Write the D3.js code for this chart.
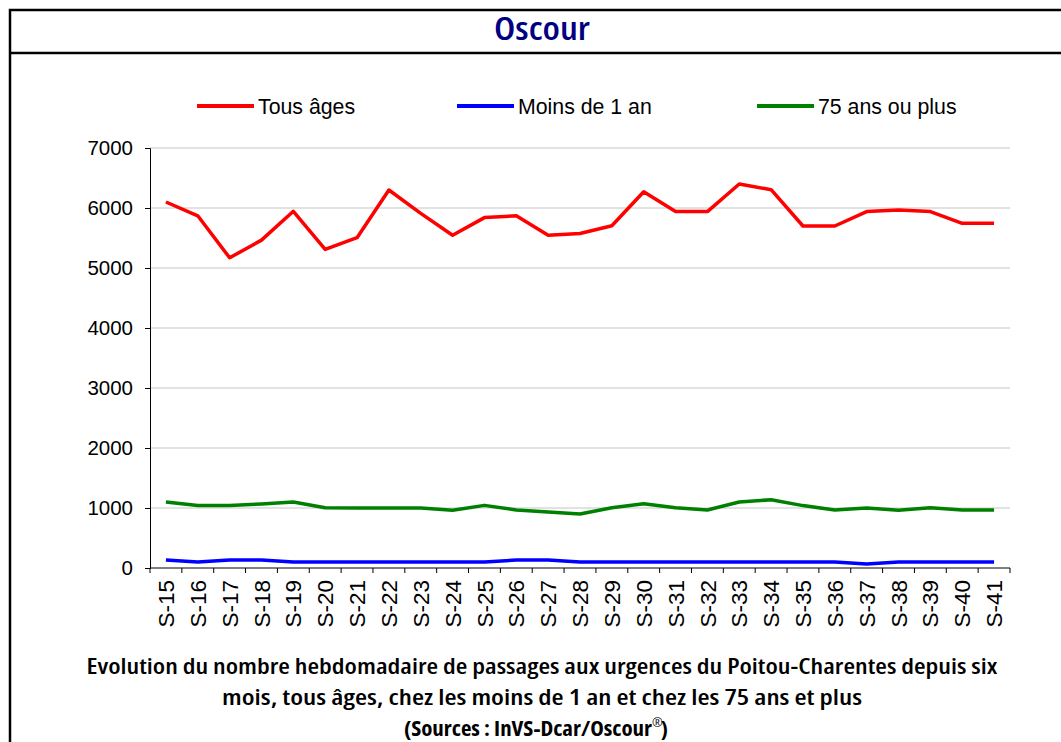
<!DOCTYPE html>
<html>
<head>
<meta charset="utf-8">
<script src="https://d3js.org/d3.v7.min.js"></script>
<style>
body { margin: 0; background: #fff; }
svg { display: block; }
.narrow { font-family: "Open Sans", "DejaVu Sans Condensed", "Liberation Sans", sans-serif; font-stretch: 75%; }
.lab { font-family: "Liberation Sans", Arial, sans-serif; fill: #000; }
</style>
</head>
<body>
<svg id="chart"></svg>
<script>
// weeks S-15 .. S-41
var weeks = ["S-15","S-16","S-17","S-18","S-19","S-20","S-21","S-22","S-23","S-24",
             "S-25","S-26","S-27","S-28","S-29","S-30","S-31","S-32","S-33","S-34",
             "S-35","S-36","S-37","S-38","S-39","S-40","S-41"];

var tousAges = [6100, 5870, 5170, 5465, 5945, 5310, 5505, 6300, 5910, 5545,
                5840, 5870, 5545, 5575, 5705, 6270, 5940, 5940, 6400, 6305,
                5700, 5700, 5940, 5965, 5940, 5745, 5745];

var moins1an = [133, 100, 133, 133, 100, 100, 100, 100, 100, 100,
                100, 133, 133, 100, 100, 100, 100, 100, 100, 100,
                100, 100, 67, 100, 100, 100, 100];

var plus75 = [1100, 1040, 1040, 1067, 1100, 1003, 1000, 1000, 1000, 963,
              1044, 967, 933, 900, 1005, 1072, 1005, 967, 1100, 1138,
              1040, 967, 1000, 963, 1005, 967, 967];

var seriesNames = ["Tous âges", "Moins de 1 an", "75 ans ou plus"];
var seriesColors = ["#ff0000", "#0000ff", "#008000"];
var yTicks = [0, 1000, 2000, 3000, 4000, 5000, 6000, 7000];

var width = 1061, height = 742;
var svg = d3.select("#chart").attr("width", width).attr("height", height);

// frame
svg.append("rect")
   .attr("x", 10).attr("y", 10)
   .attr("width", 1100).attr("height", 800)
   .attr("fill", "none").attr("stroke", "#000").attr("stroke-width", 2.5);
svg.append("line")
   .attr("x1", 10).attr("x2", 1061).attr("y1", 53).attr("y2", 53)
   .attr("stroke", "#000").attr("stroke-width", 2.5);

// title
svg.append("text")
   .attr("class", "narrow")
   .attr("x", 542).attr("y", 40)
   .attr("text-anchor", "middle")
   .attr("textLength", 96).attr("lengthAdjust", "spacingAndGlyphs")
   .style("font-size", "32px").style("font-weight", "600")
   .style("fill", "#000080")
   .text("Oscour");

var x = d3.scaleBand().domain(weeks).range([150, 1010]);
var y = d3.scaleLinear().domain([0, 7000]).range([568, 148]);

// gridlines
svg.append("g").selectAll("line")
   .data(yTicks.filter(function(d) { return d > 0; }))
   .enter().append("line")
   .attr("x1", 150).attr("x2", 1010)
   .attr("y1", function(d) { return y(d); })
   .attr("y2", function(d) { return y(d); })
   .attr("stroke", "#d9d9d9").attr("stroke-width", 1.5);

// y axis
var yAxis = svg.append("g")
   .attr("transform", "translate(150,0)")
   .call(d3.axisLeft(y).tickValues(yTicks).tickSize(5).tickPadding(12).tickFormat(d3.format("d")));
yAxis.selectAll("text").attr("class", "lab").style("font-size", "20.5px");
yAxis.select(".domain").attr("stroke", "#000");

// x axis
var xAxis = svg.append("g")
   .attr("transform", "translate(0,568)");
xAxis.append("line")
   .attr("x1", 150).attr("x2", 1010).attr("y1", 0).attr("y2", 0)
   .attr("stroke", "#000");
xAxis.selectAll("line.tk")
   .data(weeks.map(function(d) { return x(d); }).concat([x.range()[1]]))
   .enter().append("line")
   .attr("class", "tk")
   .attr("x1", function(d) { return d; }).attr("x2", function(d) { return d; })
   .attr("y1", 0).attr("y2", 5)
   .attr("stroke", "#000");
xAxis.selectAll("text")
   .data(weeks)
   .enter().append("text")
   .attr("class", "lab")
   .attr("transform", function(d) {
       return "translate(" + (x(d) + x.bandwidth() / 2) + ",12) rotate(-90)";
   })
   .attr("text-anchor", "end")
   .attr("dy", "0.36em")
   .style("font-size", "22.5px")
   .text(function(d) { return d; });

// lines
var allSeries = [tousAges, moins1an, plus75];
var line = d3.line()
   .x(function(d, i) { return x(weeks[i]) + x.bandwidth() / 2; })
   .y(function(d) { return y(d); });

svg.append("g").selectAll("path")
   .data(allSeries)
   .enter().append("path")
   .attr("d", line)
   .attr("fill", "none")
   .attr("stroke", function(d, i) { return seriesColors[i]; })
   .attr("stroke-width", 3.5)
   .attr("stroke-linejoin", "round");

// legend
var legX = [197, 457, 757];
var leg = svg.append("g").selectAll("g")
   .data(seriesNames)
   .enter().append("g")
   .attr("transform", function(d, i) { return "translate(" + legX[i] + ",106)"; });
leg.append("line")
   .attr("x1", 0).attr("x2", 57).attr("y1", 0).attr("y2", 0)
   .attr("stroke", function(d, i) { return seriesColors[i]; })
   .attr("stroke-width", 4);
leg.append("text")
   .attr("class", "lab")
   .attr("x", 61).attr("y", 0).attr("dy", "0.36em")
   .style("font-size", "21.3px")
   .text(function(d) { return d; });

// caption
var cap = svg.append("g").attr("class", "narrow").style("fill", "#000");
cap.append("text")
   .attr("x", 542).attr("y", 674).attr("text-anchor", "middle")
   .attr("textLength", 911).attr("lengthAdjust", "spacingAndGlyphs")
   .style("font-size", "22px").style("font-weight", "600")
   .text("Evolution du nombre hebdomadaire de passages aux urgences du Poitou-Charentes depuis six");
cap.append("text")
   .attr("x", 542).attr("y", 705).attr("text-anchor", "middle")
   .attr("textLength", 640).attr("lengthAdjust", "spacingAndGlyphs")
   .style("font-size", "22px").style("font-weight", "600")
   .text("mois, tous âges, chez les moins de 1 an et chez les 75 ans  et plus");
cap.append("text")
   .attr("x", 404).attr("y", 736)
   .attr("textLength", 248).attr("lengthAdjust", "spacingAndGlyphs")
   .style("font-size", "22px").style("font-weight", "bold")
   .text("(Sources : InVS-Dcar/Oscour");
cap.append("text")
   .attr("x", 652).attr("y", 727)
   .style("font-size", "13px")
   .text("®");
cap.append("text")
   .attr("x", 661).attr("y", 736)
   .style("font-size", "22px").style("font-weight", "bold")
   .text(")");
</script>
</body>
</html>
